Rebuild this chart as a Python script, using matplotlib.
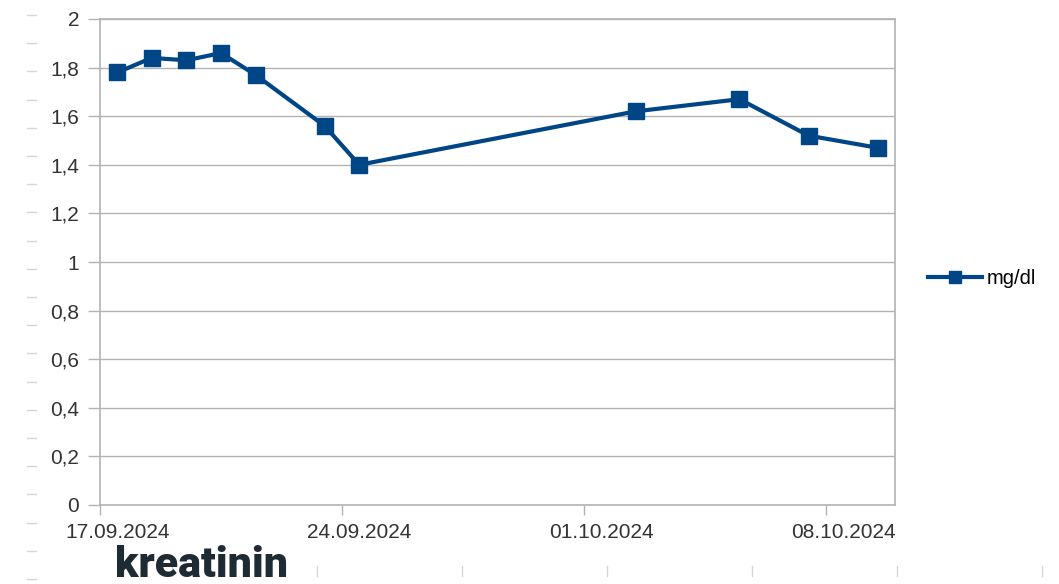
import matplotlib
matplotlib.use("Agg")
import matplotlib.pyplot as plt
import matplotlib.dates as mdates
import numpy as np
import pandas as pd

# measurement dates and values (mg/dl)
dates = ["2024-09-17", "2024-09-18", "2024-09-19", "2024-09-20", "2024-09-21",
         "2024-09-23", "2024-09-24", "2024-10-02", "2024-10-05", "2024-10-07",
         "2024-10-09"]
values = [1.78, 1.84, 1.83, 1.86, 1.77, 1.56, 1.40, 1.62, 1.67, 1.52, 1.47]

week_ticks = ["2024-09-17", "2024-09-24", "2024-10-01", "2024-10-08"]
y_ticks = [0, 0.2, 0.4, 0.6, 0.8, 1, 1.2, 1.4, 1.6, 1.8, 2]
series_name = "mg/dl"
title_text = "kreatinin"

plt.rcParams["font.family"] = ["Liberation Sans", "DejaVu Sans"]

W, H = 1059, 584
fig = plt.figure(figsize=(W / 100, H / 100), dpi=100)
fig.patch.set_facecolor("white")

ax = fig.add_axes([100 / W, (H - 505) / H, 795 / W, 486 / H])

# LibreOffice places each day in the middle of its slot
x = pd.to_datetime(dates) + pd.Timedelta(hours=12)
line_color = "#004586"
ax.plot(x, values, color=line_color, linewidth=3, marker="s", markersize=11,
        markeredgecolor=line_color, markerfacecolor=line_color, label=series_name,
        zorder=3)

ax.set_xlim(pd.Timestamp("2024-09-17"), pd.Timestamp("2024-10-10"))
ax.set_ylim(0, 2)

major = pd.to_datetime(week_ticks)
ax.set_xticks(major)
ax.set_xticklabels([])
ax.set_xticks(major + pd.Timedelta(hours=12), minor=True)
ax.xaxis.set_minor_formatter(mdates.DateFormatter("%d.%m.%Y"))
ax.tick_params(axis="x", which="major", length=7, width=1, color="#b3b3b3", direction="out")
ax.tick_params(axis="x", which="minor", length=0, pad=13, labelsize=15, labelcolor="#333333")

ax.set_yticks(y_ticks)
ax.set_yticklabels([("%g" % v).replace(".", ",") for v in y_ticks])
ax.tick_params(axis="y", length=9, width=1, color="#b3b3b3", pad=6, labelsize=15,
               labelcolor="#333333")

ax.grid(axis="y", color="#b3b3b3", linewidth=1)
ax.set_axisbelow(True)
for s in ax.spines.values():
    s.set_color("#b3b3b3")
    s.set_linewidth(1.2)

leg = fig.legend(loc="center left", bbox_to_anchor=(928 / W, 1 - 279 / H), frameon=False,
                 fontsize=14.5, handlelength=2.7, handletextpad=0.2, borderpad=0,
                 borderaxespad=0, markerscale=0.85)

# faint ruler marks from the screenshot edges
for yy in np.arange(15, 584, 28.2):
    fig.add_artist(plt.Line2D([27 / W, 36 / W], [1 - yy / H, 1 - yy / H],
                              color="#d6d6d6", linewidth=1))
for xx in np.arange(172, 1059, 145):
    fig.add_artist(plt.Line2D([xx / W, xx / W], [1 - 566 / H, 1 - 576 / H],
                              color="#d6d6d6", linewidth=1))

fig.text(115 / W, 1 - 577 / H, title_text, fontsize=31, fontweight=900,
         family=["Roboto", "DejaVu Sans"],
         color="#1f2b33", va="baseline", ha="left")

fig.savefig("out.png", dpi=100)
